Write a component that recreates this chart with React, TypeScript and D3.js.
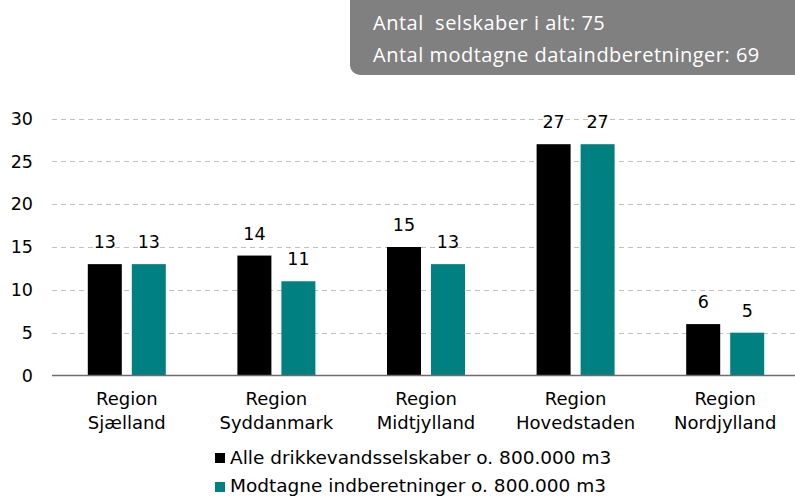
import React from "react";
import * as d3 from "d3";

const categories = [
  ["Region", "Sjælland"],
  ["Region", "Syddanmark"],
  ["Region", "Midtjylland"],
  ["Region", "Hovedstaden"],
  ["Region", "Nordjylland"],
];
const alleValues = [13, 14, 15, 27, 6];
const modtagneValues = [13, 11, 13, 27, 5];
const seriesNames = [
  "Alle drikkevandsselskaber o. 800.000 m3",
  "Modtagne indberetninger o. 800.000 m3",
];
const seriesColors = ["#000000", "#008080"];
const yTicks = [0, 5, 10, 15, 20, 25, 30];
const infoLines = ["Antal  selskaber i alt: 75", "Antal modtagne dataindberetninger: 69"];

export default function App() {
  const W = 795;
  const H = 497;
  const x0 = 52;
  const x1 = 800;
  const yTop = 118.5;
  const yBot = 375.5;
  const font = "'DejaVu Sans', Verdana, sans-serif";

  const x = d3
    .scaleBand<number>()
    .domain(categories.map((_, i) => i))
    .range([x0, x1]);
  const y = d3.scaleLinear().domain([0, 30]).range([yBot, yTop]);
  const barW = 34;
  const gap = 10;
  const series = [alleValues, modtagneValues];

  return (
    <svg
      width={W}
      height={H}
      style={{ position: "absolute", left: 0, top: 0, background: "#fff" }}
    >
      <rect x={350} y={-10} width={460} height={85} rx={10} fill="#808080" />
      {infoLines.map((t, i) => (
        <text
          key={i}
          x={373}
          y={30 + i * 32}
          fill="#fff"
          fontSize={20}
          letterSpacing={0.5}
          fontFamily="'Open Sans', Carlito, Calibri, sans-serif"
          style={{ whiteSpace: "pre" }}
        >
          {t}
        </text>
      ))}
      {yTicks.map((t) => (
        <g key={t}>
          {t > 0 && (
            <line
              x1={x0}
              x2={W}
              y1={Math.round(y(t)) + 0.5}
              y2={Math.round(y(t)) + 0.5}
              stroke="#c0c0c0"
              strokeDasharray="5,4"
              strokeWidth={1}
            />
          )}
          <text
            x={33}
            y={y(t)}
            dy="0.36em"
            textAnchor="end"
            fontSize={17.5}
            fontFamily={font}
            fill="#000"
          >
            {t}
          </text>
        </g>
      ))}
      {categories.map((c, i) => {
        const cx = (x(i) as number) + x.bandwidth() / 2;
        return (
          <g key={i}>
            {series.map((vals, s) => {
              const bx = s === 0 ? cx - gap / 2 - barW : cx + gap / 2;
              const v = vals[i];
              return (
                <g key={s}>
                  <rect
                    x={bx}
                    y={y(v)}
                    width={barW}
                    height={yBot - y(v)}
                    fill={seriesColors[s]}
                  />
                  <text
                    x={bx + barW / 2}
                    y={y(v) - 16}
                    textAnchor="middle"
                    fontSize={17.5}
                    fontFamily={font}
                    fill="#000"
                  >
                    {v}
                  </text>
                </g>
              );
            })}
            {c.map((line, li) => (
              <text
                key={li}
                x={cx}
                y={405 + li * 24}
                textAnchor="middle"
                fontSize={18}
                fontFamily={font}
                fill="#000"
              >
                {line}
              </text>
            ))}
          </g>
        );
      })}
      <line x1={x0} x2={W} y1={yBot} y2={yBot} stroke="#6e6e6e" strokeWidth={1.5} />
      {seriesNames.map((n, i) => (
        <g key={i}>
          <rect x={215} y={453 + i * 29} width={10} height={10} fill={seriesColors[i]} />
          <text x={230} y={464 + i * 28} fontSize={18.5} fontFamily={font} fill="#000">
            {n}
          </text>
        </g>
      ))}
    </svg>
  );
}
